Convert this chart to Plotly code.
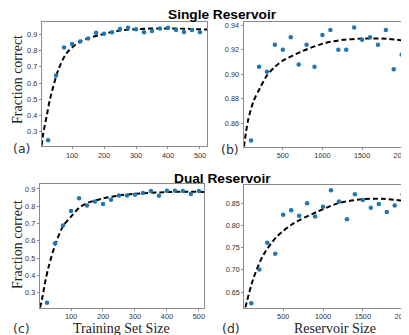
import plotly.graph_objects as go

# The page body adds an 8px margin; the figure is sized so that it ends at the window edge.
OFF = 8
WIN_W, WIN_H = 409, 335
W, H = WIN_W - OFF, WIN_H - OFF

# ---------------- data ----------------
train_x = [25, 50, 75, 100, 125, 150, 175, 200, 225, 250, 275, 300, 325, 350, 375, 400, 425, 450, 475, 500]
single_train_y = [0.245, 0.646, 0.82, 0.842, 0.858, 0.876, 0.912, 0.905, 0.914, 0.934, 0.943, 0.933, 0.914, 0.923, 0.937, 0.943, 0.929, 0.916, 0.928, 0.915]
dual_train_y = [0.242, 0.586, 0.688, 0.773, 0.847, 0.805, 0.828, 0.813, 0.837, 0.862, 0.862, 0.866, 0.877, 0.888, 0.861, 0.89, 0.89, 0.888, 0.871, 0.888]

res_x = [100, 200, 300, 400, 500, 600, 700, 800, 900, 1000, 1100, 1200, 1300, 1400, 1500, 1600, 1700, 1800, 1900, 2000]
single_res_y = [0.846, 0.906, 0.902, 0.924, 0.920, 0.930, 0.908, 0.924, 0.906, 0.932, 0.936, 0.920, 0.920, 0.938, 0.928, 0.930, 0.924, 0.936, 0.904, 0.916]
dual_res_y = [0.625, 0.701, 0.761, 0.736, 0.824, 0.834, 0.822, 0.850, 0.820, 0.842, 0.879, 0.854, 0.814, 0.870, 0.857, 0.840, 0.848, 0.830, 0.845, 0.870]

# dashed fit curves
fit_a_x = [5, 10, 21, 31, 57, 83, 125, 187, 250, 312, 375, 437, 500, 522]
fit_a_y = [0.212, 0.29, 0.40, 0.50, 0.682, 0.785, 0.857, 0.898, 0.925, 0.935, 0.938, 0.937, 0.933, 0.931]
fit_b_x = [10, 60, 130, 214, 300, 400, 500, 718, 1011, 1263, 1500, 1810, 2092]
fit_b_y = [0.841, 0.862, 0.878, 0.889, 0.899, 0.906, 0.911, 0.918, 0.925, 0.928, 0.929, 0.9288, 0.9268]
fit_c_x = [3, 10, 20, 30, 50, 75, 100, 128, 153, 200, 250, 300, 400, 460, 516]
fit_c_y = [0.213, 0.27, 0.37, 0.45, 0.575, 0.685, 0.74, 0.795, 0.82, 0.845, 0.862, 0.872, 0.882, 0.884, 0.883]
fit_d_x = [25, 125, 250, 417, 625, 917, 1209, 1500, 1750, 2079]
fit_d_y = [0.615, 0.68, 0.733, 0.774, 0.804, 0.83, 0.851, 0.859, 0.86, 0.854]

panel_titles = ["Single Reservoir", "Dual Reservoir"]
panel_letters = ["(a)", "(b)", "(c)", "(d)"]
y_title = "Fraction correct"
x_titles = ["Training Set Size", "Reservoir Size"]

# ---------------- layout helpers (positions given in window pixels) ----------------
def px_x(p):
    return (p - OFF) / W

def px_y(p):
    return 1 - (p - OFF) / H

BLUE = "#1f77b4"
FRAME = "#8a8a8a"
TICKFONT = dict(family="Liberation Sans, Arial, sans-serif", size=7.3, color="#333333")

fig = go.Figure()

panels = [
    (train_x, single_train_y, fit_a_x, fit_a_y, ""),
    (res_x, single_res_y, fit_b_x, fit_b_y, "2"),
    (train_x, dual_train_y, fit_c_x, fit_c_y, "3"),
    (res_x, dual_res_y, fit_d_x, fit_d_y, "4"),
]

for xs, ys, fx, fy, s in panels:
    fig.add_trace(go.Scatter(x=fx, y=fy, mode="lines",
                             line=dict(color="black", width=2, dash="5px,3px", shape="spline", smoothing=0.8),
                             xaxis="x" + s, yaxis="y" + s, showlegend=False, hoverinfo="skip"))
    fig.add_trace(go.Scatter(x=xs, y=ys, mode="markers", marker=dict(color=BLUE, size=4.5),
                             xaxis="x" + s, yaxis="y" + s, showlegend=False))

def xax(domain, rng, tickvals, anchor, mirror=True):
    return dict(domain=domain, range=rng, tickvals=tickvals, ticktext=[str(v) for v in tickvals],
                anchor=anchor, showline=True, linecolor=FRAME, linewidth=1, mirror=mirror,
                ticks="outside", ticklen=2, tickcolor=FRAME, tickfont=TICKFONT,
                ticklabeloverflow="allow",
                showgrid=False, zeroline=False, automargin=False)

def yax(domain, rng, tickvals, fmt, anchor, mirror=True):
    return dict(domain=domain, range=rng, tickvals=tickvals, ticktext=[fmt.format(v) for v in tickvals],
                anchor=anchor, showline=True, linecolor=FRAME, linewidth=1, mirror=mirror,
                ticks="outside", ticklen=2, tickcolor=FRAME, tickfont=TICKFONT,
                ticklabeloverflow="allow",
                showgrid=False, zeroline=False, automargin=False)

ticks_train = [100, 200, 300, 400, 500]
ticks_res = [500, 1000, 1500, 2000]

layout = dict(
    width=W, height=H, margin=dict(l=0, r=0, t=0, b=0),
    paper_bgcolor="white", plot_bgcolor="white", template="none",
    xaxis=xax([px_x(41.7), px_x(207)], [5, 522], ticks_train, "y"),
    yaxis=yax([px_y(146), px_y(22)], [0.21, 0.978], [0.3, 0.4, 0.5, 0.6, 0.7, 0.8, 0.9], "{:.1f}", "x"),
    xaxis2=xax([px_x(243.5), 1.0], [4, 2092], ticks_res, "y2"),
    yaxis2=yax([px_y(146.7), px_y(22)], [0.841, 0.9425], [0.86, 0.88, 0.90, 0.92, 0.94], "{:.2f}", "x2", mirror=False),
    xaxis3=xax([px_x(39.7), px_x(204)], [2, 516], ticks_train, "y3"),
    yaxis3=yax([px_y(307.7), px_y(184.3)], [0.213, 0.927], [0.3, 0.4, 0.5, 0.6, 0.7, 0.8, 0.9], "{:.1f}", "x3"),
    xaxis4=xax([px_x(244.3), 1.0], [12, 2079], ticks_res, "y4"),
    yaxis4=yax([px_y(307.7), px_y(185)], [0.6147, 0.891], [0.65, 0.70, 0.75, 0.80, 0.85], "{:.2f}", "x4", mirror=False),
)
fig.update_layout(**layout)

TITLEFONT = dict(family="Liberation Sans, Arial, sans-serif", size=13.7, color="black")
SERIF = dict(family="Liberation Serif, Times New Roman, serif", size=14, color="#222222")
LETTER = dict(family="DejaVu Sans, sans-serif", size=12.5, color="#333333")

annots = [
    dict(text="<b>%s</b>" % panel_titles[0], x=px_x(222.2), y=px_y(14), font=TITLEFONT),
    dict(text="<b>%s</b>" % panel_titles[1], x=px_x(222.8), y=px_y(178.3), font=TITLEFONT),
    dict(text=y_title, x=px_x(17), y=px_y(80), font=SERIF, textangle=-90),
    dict(text=y_title, x=px_x(17), y=px_y(245), font=SERIF, textangle=-90),
    dict(text=x_titles[0], x=px_x(121), y=px_y(328), font=SERIF),
    dict(text=x_titles[1], x=px_x(334.5), y=px_y(328), font=SERIF),
    dict(text=panel_letters[0], x=px_x(21.5), y=px_y(148.5), font=LETTER),
    dict(text=panel_letters[1], x=px_x(230), y=px_y(149.5), font=LETTER),
    dict(text=panel_letters[2], x=px_x(21), y=px_y(328), font=LETTER),
    dict(text=panel_letters[3], x=px_x(231), y=px_y(328), font=LETTER),
]
for a in annots:
    a.update(xref="paper", yref="paper", showarrow=False, xanchor="center", yanchor="middle")
fig.update_layout(annotations=annots)

fig.write_html("out.html")
